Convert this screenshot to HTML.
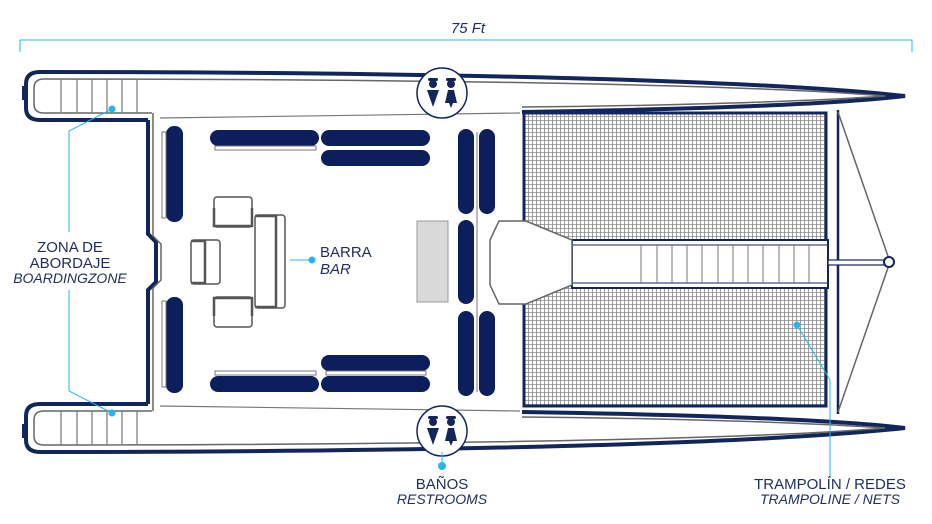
<!DOCTYPE html>
<html><head><meta charset="utf-8"><style>
html,body{margin:0;padding:0;background:#fff;}
svg{display:block;font-family:"Liberation Sans",sans-serif;}
</style></head><body>
<svg width="932" height="524" viewBox="0 0 932 524" xmlns="http://www.w3.org/2000/svg">
<defs>
<pattern id="mesh" width="4" height="4" patternUnits="userSpaceOnUse">
<rect width="4" height="4" fill="#fff"/>
<path d="M0 0.5H4M0.5 0V4" stroke="#8a8a8a" stroke-width="0.8"/>
</pattern>
<g id="hull">
<path d="M148 120 L40 120 Q26 120 26 108 L26 84 Q26 72 40 72 C300 72 720 76 905 96 C820 106 650 110 522 112" fill="none" stroke="#13265c" stroke-width="4"/>
<path d="M152 113 L44 113 Q34 113 34 104 L34 88 Q34 79 44 79 C300 79 720 82 885 96 C800 102 650 106 522 107" fill="none" stroke="#666" stroke-width="1.5"/>
<path d="M160 118 L520 113" stroke="#777" stroke-width="1.2"/>
<path d="M148 120 L148 234 L156 242 L156 262" fill="none" stroke="#13265c" stroke-width="4"/>
<path d="M153 113 L153 236 L161 244 L161 262" fill="none" stroke="#666" stroke-width="1.5"/>
<g stroke="#777" stroke-width="1.2"><path d="M61 79V113M77 79V113M92 79V113M107 79V113M122 79V113M137 79V113"/></g>
<path d="M24 86 L24 100" stroke="#13265c" stroke-width="4"/>
</g>
<g id="wc">
<circle cx="0" cy="0" r="25" fill="#fff" stroke="#13265c" stroke-width="1.5"/>
<circle cx="-9" cy="-9" r="4" fill="#13265c"/><rect x="-14" y="-15" width="10" height="3" rx="1.5" fill="#13265c"/>
<path d="M-15 -3 L-3 -3 L-9 14Z" fill="#13265c"/>
<circle cx="9" cy="-9" r="4" fill="#13265c"/><rect x="4" y="-15" width="10" height="3" rx="1.5" fill="#13265c"/>
<path d="M6 -3 L12 -3 L15 10 L11 10 L9 15 L7 10 L3 10Z" fill="#13265c"/>
</g>
</defs>

<path d="M20 52V40H912V52" fill="none" stroke="#29b6e6" stroke-width="1"/>
<text x="468" y="33" font-size="15" font-style="italic" fill="#1f2d5c" text-anchor="middle">75 Ft</text>

<use href="#hull"/>
<use href="#hull" transform="matrix(1 0 0 -1 0 524)"/>

<rect x="524" y="113" width="302" height="293" fill="url(#mesh)" stroke="#13265c" stroke-width="3"/>
<line x1="838" y1="110" x2="838" y2="414" stroke="#13265c" stroke-width="2.5"/>
<path d="M838 112 L890 262 L838 412" fill="none" stroke="#666" stroke-width="1.5"/>
<rect x="572" y="240" width="256" height="48" fill="#fff" stroke="#13265c" stroke-width="2"/>
<line x1="572" y1="245" x2="828" y2="245" stroke="#13265c" stroke-width="1"/>
<line x1="572" y1="283" x2="828" y2="283" stroke="#13265c" stroke-width="1"/>
<g stroke="#777" stroke-width="1"><path d="M641 245V283M657 245V283M672 245V283M687 245V283M702 245V283M718 245V283M733 245V283M748 245V283M763 245V283M779 245V283M794 245V283M809 245V283"/></g>
<rect x="828" y="260" width="60" height="5" fill="#fff" stroke="#13265c" stroke-width="1.2"/>
<circle cx="889" cy="262" r="5" fill="#fff" stroke="#13265c" stroke-width="2"/>
<path d="M490 240 L499 221 L526 221 L572 240 L572 285 L526 304 L499 304 L490 285Z" fill="#fff" stroke="#666" stroke-width="1.5"/>

<g fill="#0c1f5c">
<rect x="166" y="126" width="17" height="96" rx="8"/>
<rect x="166" y="297" width="17" height="96" rx="8"/>
<rect x="210" y="130" width="109" height="16" rx="8"/>
<rect x="321" y="130" width="109" height="16" rx="8"/>
<rect x="321" y="150" width="109" height="16" rx="8"/>
<rect x="210" y="376" width="109" height="16" rx="8"/>
<rect x="321" y="355" width="109" height="16" rx="8"/>
<rect x="321" y="376" width="109" height="16" rx="8"/>
<rect x="458" y="129" width="16" height="85" rx="8"/>
<rect x="479" y="129" width="16" height="85" rx="8"/>
<rect x="458" y="220" width="16" height="84" rx="8"/>
<rect x="458" y="311" width="16" height="85" rx="8"/>
<rect x="479" y="311" width="16" height="85" rx="8"/>
</g>
<g fill="none" stroke="#777" stroke-width="1">
<rect x="162" y="132" width="4" height="86"/><rect x="162" y="301" width="4" height="86"/>
<rect x="215" y="146" width="101" height="4"/><rect x="215" y="371" width="101" height="4"/>
<rect x="326" y="371" width="100" height="4"/>
<line x1="477" y1="132" x2="477" y2="392"/>
</g>

<rect x="417" y="221" width="31" height="81" fill="#d9d9d9" stroke="#999"/>
<g fill="#fff" stroke="#555" stroke-width="1.5">
<rect x="214" y="197" width="38" height="30" rx="3"/>
<rect x="214" y="297" width="38" height="30" rx="3"/>
<rect x="255" y="215" width="30" height="93" rx="3"/>
<rect x="191" y="240" width="29" height="44" rx="3"/>
</g>
<g stroke="#555" stroke-width="2.5" fill="none">
<path d="M214 208V226H252V208"/><path d="M214 316V298H252V316"/>
<path d="M255 216H276V307H255"/><path d="M191 241H205V283H191"/>
</g>

<use href="#wc" x="442" y="93"/>
<use href="#wc" x="442" y="431"/>

<g stroke="#29b6e6" stroke-width="1" fill="none">
<path d="M112 109 L69 131 V232"/>
<path d="M112 413 L69 391 V290"/>
<path d="M290 260 H312"/>
<path d="M442 452 V462"/>
<path d="M797 325 L830 380 V478"/>
</g>
<g fill="#29b6e6">
<circle cx="112" cy="109" r="3.5"/><circle cx="112" cy="413" r="3.5"/>
<circle cx="312" cy="260" r="3.5"/><circle cx="442" cy="466" r="4"/>
<circle cx="797" cy="325" r="3.5"/>
</g>
<g font-size="15" fill="#1f2d5c">
<text x="70" y="252" text-anchor="middle">ZONA DE</text>
<text x="70" y="268" text-anchor="middle">ABORDAJE</text>
<text x="70" y="283" text-anchor="middle" font-style="italic" font-size="14">BOARDINGZONE</text>
<text x="320" y="257">BARRA</text>
<text x="320" y="274" font-style="italic">BAR</text>
<text x="442" y="489" text-anchor="middle">BAÑOS</text>
<text x="442" y="504" text-anchor="middle" font-style="italic" font-size="14">RESTROOMS</text>
<text x="830" y="489" text-anchor="middle">TRAMPOLÍN / REDES</text>
<text x="830" y="504" text-anchor="middle" font-style="italic" font-size="14">TRAMPOLINE / NETS</text>
</g>
</svg>
</body></html>
